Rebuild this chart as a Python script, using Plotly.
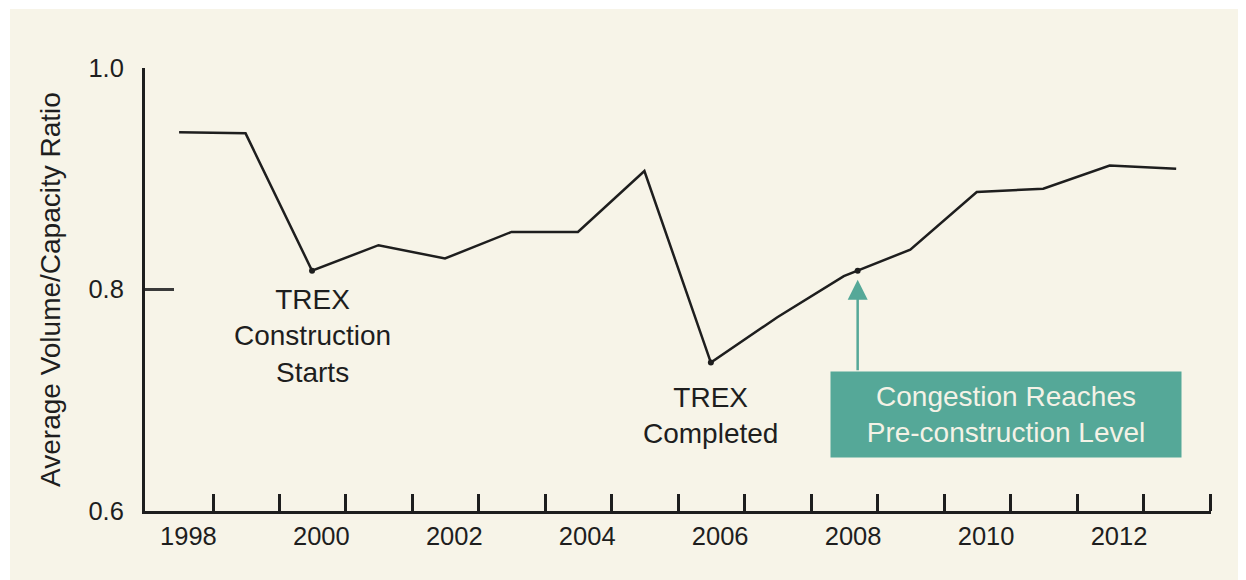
import plotly.graph_objects as go

# Average volume/capacity ratio, one value per year
years = [1998, 1999, 2000, 2001, 2002, 2003, 2004, 2005,
         2006, 2007, 2008, 2009, 2010, 2011, 2012, 2013]
ratio = [0.942, 0.941, 0.817, 0.840, 0.828, 0.852, 0.852, 0.907,
         0.734, 0.775, 0.812, 0.836, 0.888, 0.891, 0.912, 0.909]

label_years = [1998, 2000, 2002, 2004, 2006, 2008, 2010, 2012]
y_ticks = [0.6, 0.8, 1.0]
y_ticktext = ["0.6", "0.8", "1.0"]

start_year = 2000      # TREX construction starts
done_year = 2006       # TREX completed

PAGE = "#ffffff"
CREAM = "#f7f4e8"
INK = "#1e1e1e"
TEAL = "#55a898"
BOX_INK = "#f4f2e6"
FONT = "Liberation Sans, Arial, Helvetica, sans-serif"

# the page body has an 8px margin, so the figure is a bit smaller than the window
W, H = 1238, 572
M = dict(l=137, r=35, t=60, b=69)
LABEL_SHIFT = 0.14  # year labels sit a little right of the data points
TICK_SHIFT = 0.51   # small year ticks fall between data points

# point where congestion climbs back to the pre-construction (2000) level
base = ratio[years.index(start_year)]
cross_x, cross_y = None, base
for i in range(years.index(done_year), len(years) - 1):
    if ratio[i] < base <= ratio[i + 1]:
        cross_x = years[i] + (base - ratio[i]) / (ratio[i + 1] - ratio[i])
        break

fig = go.Figure()
fig.add_trace(
    go.Scatter(
        x=years, y=ratio, mode="lines",
        line=dict(color=INK, width=2.5),
        hoverinfo="skip",
    )
)
fig.add_trace(
    go.Scatter(
        x=[start_year, done_year, cross_x],
        y=[ratio[years.index(start_year)], ratio[years.index(done_year)], cross_y],
        mode="markers",
        marker=dict(color=INK, size=6),
        hoverinfo="skip",
    )
)

# thin white page edge above and left of the cream panel
pw = W - M["l"] - M["r"]
ph = H - M["t"] - M["b"]
fig.add_shape(type="rect", xref="paper", yref="paper",
              x0=-M["l"] / pw, x1=(2 - M["l"]) / pw, y0=-M["b"] / ph, y1=(H - M["b"]) / ph,
              fillcolor=PAGE, line_width=0, layer="below")
fig.add_shape(type="rect", xref="paper", yref="paper",
              x0=-M["l"] / pw, x1=(W - M["l"]) / pw, y0=(H - M["b"] - 1) / ph, y1=(H - M["b"]) / ph,
              fillcolor=PAGE, line_width=0, layer="below")

txt = dict(family=FONT, size=28, color=INK)
fig.add_annotation(
    x=start_year, y=ratio[years.index(start_year)], yshift=-11,
    text="TREX<br>Construction<br>Starts", showarrow=False,
    xanchor="center", yanchor="top", font=txt,
)
fig.add_annotation(
    x=done_year, y=ratio[years.index(done_year)], yshift=-17,
    text="TREX<br>Completed", showarrow=False,
    xanchor="center", yanchor="top", font=txt,
)
# arrow up to the crossover point
fig.add_annotation(
    x=cross_x, y=cross_y, text="", showarrow=True,
    ax=0, ay=101, standoff=9,
    arrowhead=2, arrowsize=1.6, arrowwidth=2.5, arrowcolor=TEAL,
)
fig.add_annotation(
    xref="paper", yref="paper",
    x=(998 - M["l"]) / pw, y=(H - M["b"] - 406.5) / ph,
    xanchor="center", yanchor="middle",
    text="Congestion Reaches<br>Pre-construction Level", showarrow=False,
    width=350, height=85, borderpad=0, bgcolor=TEAL, align="center",
    font=dict(family=FONT, size=28, color=BOX_INK),
)

fig.update_layout(
    width=W, height=H,
    margin=M,
    paper_bgcolor=CREAM,
    plot_bgcolor=CREAM,
    showlegend=False,
    font=dict(family=FONT, color=INK),
    xaxis=dict(
        range=[1997.487, 2013.524],
        tickmode="array",
        tickvals=[y + LABEL_SHIFT for y in label_years],
        ticktext=[str(y) for y in label_years],
        ticks="",
        ticklabelstandoff=0,
        tickfont=dict(size=25.5, color=INK),
        showgrid=False, zeroline=False,
        showline=True, linecolor=INK, linewidth=3,
        minor=dict(tickmode="array", tickvals=[y + TICK_SHIFT for y in years],
                   ticks="inside", ticklen=17, tickwidth=2.5, tickcolor=INK,
                   showgrid=False),
    ),
    yaxis=dict(
        range=[0.6, 1.0],
        tickmode="array", tickvals=y_ticks, ticktext=y_ticktext,
        ticks="inside", ticklen=29, tickwidth=3, tickcolor="#3a3a3a",
        ticklabelstandoff=13,
        tickfont=dict(size=25.5, color=INK),
        showgrid=False, zeroline=False,
        showline=True, linecolor=INK, linewidth=3,
        title=dict(text="Average Volume/Capacity Ratio",
                   font=dict(size=28, color=INK), standoff=20),
    ),
)

fig.write_html("out.html")
